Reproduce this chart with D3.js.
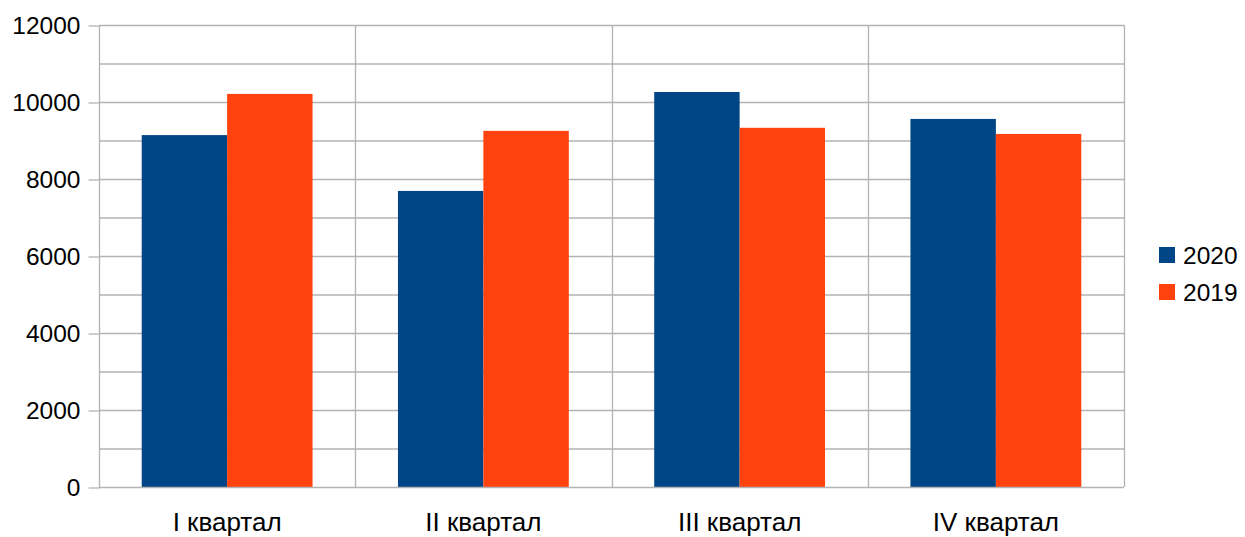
<!DOCTYPE html>
<html><head><meta charset="utf-8">
<script src="https://cdn.jsdelivr.net/npm/d3@7"></script>
<style>body{margin:0;background:#fff}svg{display:block}text{font-family:"Liberation Sans",Arial,sans-serif;fill:#000}</style>
</head><body><svg id="c" width="1245" height="537"></svg>
<script>
const categories = ["I квартал","II квартал","III квартал","IV квартал"];
const seriesNames = ["2020","2019"];
const values2020 = [9140, 7690, 10260, 9560];
const values2019 = [10210, 9250, 9330, 9170];
const yTicks = [0,2000,4000,6000,8000,10000,12000];
const colors = ["#004586","#ff420e"];

const svg = d3.select("#c");
const L=99, R=1124, T=25, B=487;
const x = d3.scaleBand().domain(categories).range([L,R]).paddingInner(0).paddingOuter(0);
const y = d3.scaleLinear().domain([0,12000]).range([B,T]);
const grid = "#b3b3b3";

// horizontal gridlines (every 1000)
svg.append("g").selectAll("line").data(d3.range(1000,12001,1000)).join("line")
  .attr("x1",L).attr("x2",R).attr("y1",d=>y(d)+0.5).attr("y2",d=>y(d)+0.5)
  .attr("stroke",grid).attr("stroke-width",1.3);
// vertical category lines
svg.append("g").selectAll("line").data(categories.slice(1).concat([null])).join("line")
  .attr("x1",(d,i)=>Math.round(i<3?x(d):R)+0.5).attr("x2",(d,i)=>Math.round(i<3?x(d):R)+0.5)
  .attr("y1",T).attr("y2",B).attr("stroke",grid).attr("stroke-width",1.3);

// bars
const sub = d3.scaleBand().domain(seriesNames).range([0,x.bandwidth()]).paddingOuter(0.5).paddingInner(0);
const data = [values2020, values2019];
seriesNames.forEach((s,si)=>{
  svg.append("g").selectAll("rect").data(categories).join("rect")
    .attr("x",c=>x(c)+sub(s)).attr("width",sub.bandwidth())
    .attr("y",(c,i)=>y(data[si][i])).attr("height",(c,i)=>B-y(data[si][i]))
    .attr("fill",colors[si]);
});

// y axis
const ya = d3.axisLeft(y).tickValues(yTicks).tickSize(11).tickPadding(8).tickFormat(d3.format("d"));
const gy = svg.append("g").attr("transform",`translate(${L+0.5},0.5)`).call(ya);
gy.selectAll(".tick line").attr("stroke",grid).attr("stroke-width",1.3);
gy.selectAll(".tick text").attr("font-size",24.5).attr("font-family","Liberation Sans").attr("fill","#000");
gy.select(".domain").attr("stroke",grid).attr("stroke-width",1.3).attr("d",`M0,${T}V${B}`);

// x axis
const xa = d3.axisBottom(x).tickSize(0).tickPadding(0);
const gx = svg.append("g").attr("transform",`translate(0,${B+0.5})`).call(xa);
gx.select(".domain").attr("stroke",grid).attr("stroke-width",1.3).attr("d",`M${L},0H${R}`);
gx.selectAll(".tick text").attr("font-size",26).attr("font-family","Liberation Sans").attr("fill","#000")
  .attr("y",43).attr("dy",null);

// legend
const lg = svg.append("g");
seriesNames.forEach((s,i)=>{
  lg.append("rect").attr("x",1159).attr("y",247+i*37).attr("width",16).attr("height",16).attr("fill",colors[i]);
  lg.append("text").attr("x",1183).attr("y",255+i*37).attr("dy","0.36em").attr("font-size",24.5).text(s);
});
</script></body></html>
